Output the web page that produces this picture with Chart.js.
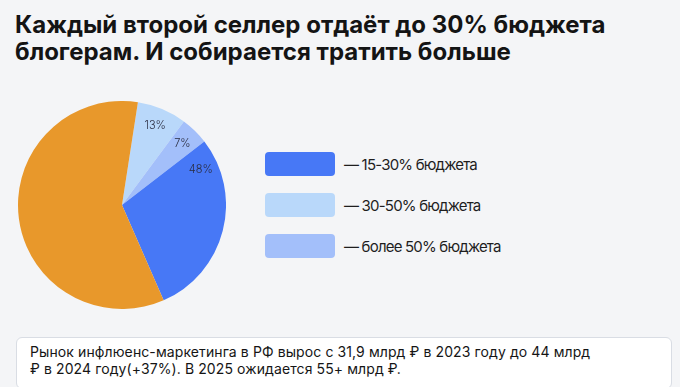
<!DOCTYPE html>
<html><head><meta charset="utf-8">
<script src="https://cdn.jsdelivr.net/npm/chart.js@4/dist/chart.umd.min.js"></script>
<style>
html,body{margin:0;padding:0;}
body{width:680px;height:387px;background:#F4F5F7;position:relative;overflow:hidden;font-family:Inter,"Noto Sans",sans-serif;color:#111;}
#title{position:absolute;left:15px;top:11px;font-size:24px;font-weight:700;line-height:27px;letter-spacing:0px;color:#141414;}
#pie{position:absolute;left:18px;top:101px;}
.leg{position:absolute;left:265px;height:24px;display:flex;align-items:center;}
.leg .box{width:70px;height:24px;border-radius:4px;}
.leg .txt{margin-left:9px;font-size:15px;letter-spacing:-0.8px;color:#1e1e1e;}
#note{position:absolute;left:16px;top:337px;width:656px;height:52px;box-sizing:border-box;background:#fff;border:1px solid #d9dde4;border-radius:6px;padding:5px 0 0 13px;font-size:14px;line-height:17px;color:#151515;letter-spacing:0.1px;}
</style></head>
<body>
<div id="title">Каждый второй селлер отдаёт до 30% бюджета<br>блогерам. И собирается тратить больше</div>
<canvas id="pie" width="208" height="208"></canvas>
<div id="legend"></div>
<div id="note">Рынок инфлюенс-маркетинга в РФ вырос с 31,9 млрд ₽ в 2023 году до 44 млрд<br>₽ в 2024 году(+37%). В 2025 ожидается 55+ млрд ₽.</div>
<script>
// slices in drawing order (clockwise from the top)
const sliceNames = ['30-50% бюджета', 'более 50% бюджета', '15-30% бюджета', 'прочие'];
const sliceValues = [7.7, 4.4, 28.9, 59.0];
const sliceLabels = ['13%', '7%', '48%', ''];
const sliceColors = ['#B9D8FA', '#A3BFFA', '#4778F6', '#E8982B'];
// legend
const legendNames = ['15-30% бюджета', '30-50% бюджета', 'более 50% бюджета'];
const legendColors = ['#4778F6', '#B9D8FA', '#A3BFFA'];

const legendTops = [152, 193, 234];
const legEl = document.getElementById('legend');
legendNames.forEach((n, i) => {
  const d = document.createElement('div');
  d.className = 'leg';
  d.style.top = legendTops[i] + 'px';
  d.innerHTML = '<div class="box" style="background:' + legendColors[i] + '"></div><div class="txt">— ' + n + '</div>';
  legEl.appendChild(d);
});

const labelPos = [0.5, 0.5, 0.13, 0.5];
const labelPlugin = {
  id: 'sliceLabels',
  afterDatasetsDraw(chart) {
    const ctx = chart.ctx;
    const meta = chart.getDatasetMeta(0);
    ctx.save();
    ctx.font = '300 11px Inter, "Noto Sans", sans-serif';
    ctx.fillStyle = '#2a2c40';
    ctx.textAlign = 'center';
    ctx.textBaseline = 'middle';
    meta.data.forEach((arc, i) => {
      const t = sliceLabels[i];
      if (!t) return;
      const p = arc.getProps(['x', 'y', 'startAngle', 'endAngle', 'outerRadius'], true);
      const a = p.startAngle + (p.endAngle - p.startAngle) * labelPos[i];
      const r = p.outerRadius * 0.83;
      ctx.fillText(t, p.x + Math.cos(a) * r, p.y + Math.sin(a) * r);
    });
    ctx.restore();
  }
};

new Chart(document.getElementById('pie'), {
  type: 'pie',
  data: {
    labels: sliceNames,
    datasets: [{ data: sliceValues, backgroundColor: sliceColors, borderWidth: 0 }]
  },
  options: {
    responsive: false,
    animation: false,
    rotation: 8.8,
    layout: { padding: 0 },
    plugins: { legend: { display: false }, tooltip: { enabled: false } }
  },
  plugins: [labelPlugin]
});
</script>
</body></html>
